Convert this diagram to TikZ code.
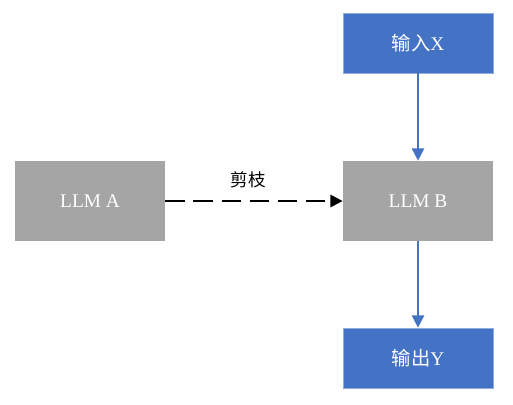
\documentclass[tikz,border=0pt]{standalone}
\usepackage{fontspec}
\setmainfont{Liberation Serif}
\newfontfamily\cjk{Noto Sans CJK SC}
\usetikzlibrary{arrows.meta}
\definecolor{boxblue}{HTML}{4472C4}
\definecolor{boxgray}{HTML}{A5A5A5}
\tikzset{
  llm/.style={fill=boxgray, text=white, minimum width=3cm, minimum height=1.6cm, inner sep=0pt},
  io/.style={fill=boxblue, draw=boxblue!60!white, line width=0.4pt, text=white, minimum width=3cm, minimum height=1.2cm, inner sep=0pt},
  flow/.style={draw=boxblue, line width=1pt, -{Triangle[length=7pt,width=7pt]}}
}

\begin{document}
\begin{tikzpicture}
\useasboundingbox (0,0) rectangle (10.26,-8.08);
\node[io] (x) at (8.36,-0.86) {\fontsize{11}{13}\selectfont{\cjk 输入}X};
\node[llm] (b) at (8.36,-4.02) {\fontsize{11}{13}\selectfont LLM B};
\node[llm] (a) at (1.8,-4.02) {\fontsize{11}{13}\selectfont LLM A};
\node[io] (y) at (8.36,-7.16) {\fontsize{11}{13}\selectfont{\cjk 输出}Y};
\node (cut) at (4.96,-3.6) {\fontsize{10}{12}\selectfont\cjk 剪枝};
\draw[flow] (x) -- (b);
\draw[flow] (b) -- (y);
\draw[line width=1.2pt, dash pattern=on 11pt off 5pt, -{Triangle[length=7pt,width=7pt]}] (a) -- (b);
\end{tikzpicture}
\end{document}
